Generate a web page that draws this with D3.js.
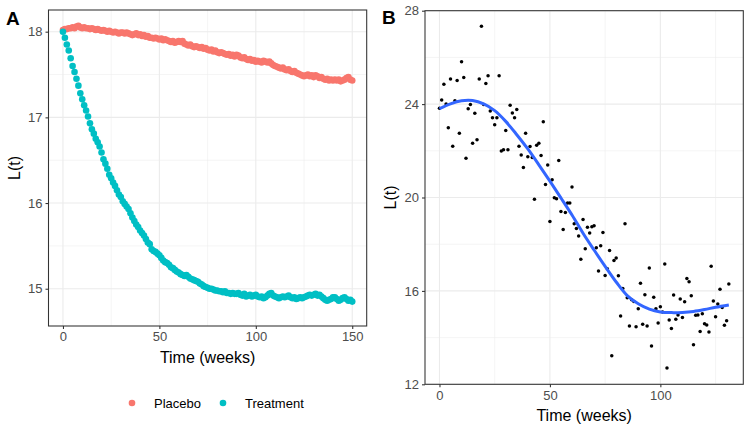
<!DOCTYPE html>
<html>
<head>
<meta charset="utf-8" />
<script src="https://d3js.org/d3.v7.min.js"></script>
<style>
    body { margin: 0; background: #fff; }
    svg { font-family: "Liberation Sans", Arial, sans-serif; }
    .tick text { fill: #4d4d4d; font-size: 13px; }
    .tick line { stroke: #333; stroke-width: 1.07; }
    .domain { display: none; }
</style>
</head>
<body>
<svg id="chart" width="751" height="431"></svg>
<script>
// Panel A : weekly values for both arms
const weeksA = d3.range(0, 151);
const placebo = [
    18.02, 18.03, 18.03, 18.04, 18.04, 18.05, 18.04, 18.06, 18.07, 18.05, 18.04,
    18.05, 18.04, 18.04, 18.03, 18.04, 18.03, 18.02, 18.03, 18.02, 18.01,
    18.02, 18.01, 18.00, 18.01, 18.00, 17.99, 18.00, 17.99, 17.98, 17.99,
    17.99, 17.98, 17.99, 17.98, 17.97, 17.96, 17.97, 17.98, 17.96, 17.97,
    17.95, 17.96, 17.94, 17.95, 17.93, 17.93, 17.92, 17.93, 17.92, 17.91,
    17.92, 17.90, 17.91, 17.90, 17.89, 17.88, 17.89, 17.87, 17.88, 17.89,
    17.88, 17.89, 17.86, 17.85, 17.84, 17.85, 17.83, 17.82, 17.83, 17.82,
    17.81, 17.82, 17.80, 17.81, 17.79, 17.78, 17.79, 17.77, 17.78, 17.76,
    17.75, 17.76, 17.75, 17.74, 17.73, 17.74, 17.72, 17.73, 17.71, 17.73,
    17.72, 17.70, 17.69, 17.70, 17.68, 17.67, 17.68, 17.66, 17.67, 17.65,
    17.66, 17.65, 17.64, 17.66, 17.65, 17.64, 17.65, 17.63, 17.61, 17.60,
    17.59, 17.58, 17.57, 17.58, 17.56, 17.55, 17.56, 17.54, 17.53, 17.54,
    17.52, 17.51, 17.50, 17.49, 17.48, 17.49, 17.50, 17.48, 17.49, 17.47,
    17.49, 17.48, 17.46, 17.47, 17.45, 17.44, 17.45, 17.43, 17.44, 17.43,
    17.44, 17.43, 17.44, 17.42, 17.43, 17.44, 17.46, 17.47, 17.44, 17.43
];
const treatment = [
    18.00, 17.93, 17.85, 17.78, 17.69, 17.60, 17.53, 17.45, 17.37, 17.28, 17.21,
    17.14, 17.08, 17.01, 16.93, 16.86, 16.81, 16.75, 16.71, 16.66, 16.59,
    16.51, 16.46, 16.40, 16.33, 16.29, 16.24, 16.20, 16.15, 16.10, 16.07,
    16.02, 15.99, 15.96, 15.93, 15.88, 15.83, 15.79, 15.75, 15.72, 15.68,
    15.65, 15.62, 15.58, 15.54, 15.52, 15.46, 15.44, 15.43, 15.41, 15.39,
    15.36, 15.33, 15.31, 15.30, 15.28, 15.25, 15.24, 15.22, 15.20, 15.19,
    15.17, 15.16, 15.15, 15.16, 15.14, 15.12, 15.11, 15.10, 15.09, 15.08,
    15.06, 15.05, 15.03, 15.02, 15.01, 15.00, 15.00, 14.99, 14.98, 14.98,
    14.97, 14.97, 14.96, 14.97, 14.95, 14.95, 14.94, 14.95, 14.94, 14.94,
    14.95, 14.93, 14.92, 14.94, 14.91, 14.92, 14.93, 14.91, 14.92, 14.93,
    14.91, 14.90, 14.91, 14.89, 14.90, 14.92, 14.94, 14.95, 14.92, 14.91,
    14.90, 14.89, 14.90, 14.91, 14.90, 14.91, 14.92, 14.90, 14.89, 14.90,
    14.88, 14.89, 14.90, 14.89, 14.90, 14.91, 14.92, 14.93, 14.92, 14.93,
    14.94, 14.92, 14.93, 14.91, 14.89, 14.87, 14.86, 14.87, 14.88, 14.90,
    14.90, 14.88, 14.86, 14.87, 14.89, 14.90, 14.88, 14.86, 14.87, 14.85
];
const groups = ["Placebo", "Treatment"];
const groupColors = ["#F8766D", "#00BFC4"];

// Panel B : noisy observations and the smooth fit
const weeksB = d3.range(0, 132);
const observed = [
    23.82, 24.18, 24.85, 24.00, 22.99, 25.07, 22.19, 24.14, 25.01, 22.75,
    25.81, 25.14, 21.68, 23.80, 23.98, 22.32, 23.61, 22.47, 25.08, 27.33,
    23.98, 24.88, 25.21, 23.70, 23.42, 23.12, 23.42, 25.21, 21.99, 22.05,
    22.87, 22.04, 23.95, 23.62, 23.42, 23.77, 22.19, 21.82, 21.29, 22.75,
    21.75, 22.18, 21.71, 19.92, 22.24, 22.32, 21.80, 23.24, 20.56, 21.39,
    18.97, 20.76, 19.99, 19.95, 21.58, 19.40, 18.63, 19.36, 19.76, 19.76,
    20.45, 18.88, 18.67, 18.35, 17.36, 19.06, 17.80, 18.73, 18.48, 18.75,
    18.79, 17.85, 16.85, 17.93, 18.50, 16.66, 16.95, 17.73, 13.22, 17.30,
    17.41, 16.65, 14.93, 16.10, 18.88, 15.71, 14.50, 15.62, 15.55, 14.46,
    15.24, 16.33, 14.57, 15.83, 14.50, 16.98, 13.64, 15.73, 15.24, 14.63,
    15.32, 15.10, 17.15, 12.70, 14.75, 14.39, 15.82, 14.79, 14.97, 15.65,
    14.86, 15.53, 16.53, 16.39, 15.79, 13.69, 14.96, 14.97, 14.26, 15.02,
    14.59, 14.54, 14.24, 17.06, 15.57, 14.89, 15.44, 16.07, 15.29, 14.53,
    14.72, 16.30
];
const fitWeeks = [0, 5, 10, 15, 20, 25, 30, 35, 40, 45, 50, 55, 60, 65, 70,
    75, 80, 85, 90, 95, 100, 105, 110, 115, 120, 125, 131];
const fitValues = [23.80, 24.01, 24.14, 24.15, 24.01, 23.72, 23.26, 22.69, 22.08,
    21.40, 20.70, 19.98, 19.25, 18.47, 17.75, 17.05, 16.38, 15.80, 15.45,
    15.22, 15.10, 15.07, 15.08, 15.12, 15.20, 15.30, 15.40];

const svg = d3.select("#chart");

function drawPanel(p) {
    const g = svg.append("g");
    const x = d3.scaleLinear().domain(p.xDomain).range([p.left, p.right]);
    const y = d3.scaleLinear().domain(p.yDomain).range([p.bottom, p.top]);

    // grille mineure puis majeure
    g.selectAll(".vminor").data(p.xMinor).enter().append("line")
        .attr("x1", d => x(d)).attr("x2", d => x(d))
        .attr("y1", p.top).attr("y2", p.bottom)
        .attr("stroke", "#ebebeb").attr("stroke-width", 0.55);
    g.selectAll(".hminor").data(p.yMinor).enter().append("line")
        .attr("y1", d => y(d)).attr("y2", d => y(d))
        .attr("x1", p.left).attr("x2", p.right)
        .attr("stroke", "#ebebeb").attr("stroke-width", 0.55);
    g.selectAll(".vmajor").data(p.xTicks).enter().append("line")
        .attr("x1", d => x(d)).attr("x2", d => x(d))
        .attr("y1", p.top).attr("y2", p.bottom)
        .attr("stroke", "#ebebeb").attr("stroke-width", 1.1);
    g.selectAll(".hmajor").data(p.yTicks).enter().append("line")
        .attr("y1", d => y(d)).attr("y2", d => y(d))
        .attr("x1", p.left).attr("x2", p.right)
        .attr("stroke", "#ebebeb").attr("stroke-width", 1.1);

    // axes
    g.append("g")
        .attr("transform", `translate(0,${p.bottom})`)
        .call(d3.axisBottom(x).tickValues(p.xTicks).tickFormat(d3.format("d"))
            .tickSize(3).tickPadding(3));
    g.append("g")
        .attr("transform", `translate(${p.left},0)`)
        .call(d3.axisLeft(y).tickValues(p.yTicks).tickFormat(d3.format("d"))
            .tickSize(3).tickPadding(3));

    g.append("text")
        .attr("x", (p.left + p.right) / 2)
        .attr("y", p.bottom + 37)
        .attr("text-anchor", "middle")
        .style("font-size", "16px")
        .text("Time (weeks)");
    g.append("text")
        .attr("transform", `translate(${p.yTitleX},${(p.top + p.bottom) / 2}) rotate(-90)`)
        .attr("text-anchor", "middle")
        .style("font-size", "16px")
        .text("L(t)");
    g.append("text")
        .attr("x", p.tagX).attr("y", p.tagY)
        .style("font-size", "19px").style("font-weight", "bold")
        .text(p.tag);

    return { g, x, y };
}

// ---- Panel A
const A = drawPanel({
    left: 48.5, right: 366.7, top: 10, bottom: 326,
    xDomain: [-7.5, 157.5], yDomain: [14.565, 18.253],
    xTicks: [0, 50, 100, 150], xMinor: [25, 75, 125],
    yTicks: [15, 16, 17, 18], yMinor: [15.5, 16.5, 17.5],
    yTitleX: 20, tag: "A", tagX: 6, tagY: 25
});
const seriesA = [placebo, treatment];
seriesA.forEach((vals, i) => {
    A.g.append("g").selectAll("circle")
        .data(weeksA)
        .enter().append("circle")
        .attr("cx", (d) => A.x(d))
        .attr("cy", (d, j) => A.y(vals[j]))
        .attr("r", 3.3)
        .attr("fill", groupColors[i]);
});
A.g.append("rect")
    .attr("x", 48.5).attr("y", 10).attr("width", 366.7 - 48.5).attr("height", 316)
    .attr("fill", "none").attr("stroke", "#333").attr("stroke-width", 1.07);

// legende
const legendX = [132, 223];
const legend = svg.append("g").selectAll("g")
    .data(groups)
    .enter().append("g")
    .attr("transform", (d, i) => `translate(${legendX[i]},403)`);
legend.append("circle").attr("r", 3.3).attr("fill", (d, i) => groupColors[i]);
legend.append("text")
    .attr("x", 22).attr("y", 4.6)
    .style("font-size", "13px")
    .text(d => d);

// ---- Panel B
const B = drawPanel({
    left: 425, right: 743.3, top: 10.7, bottom: 384.3,
    xDomain: [-6.55, 137.55], yDomain: [12, 28],
    xTicks: [0, 50, 100], xMinor: [25, 75, 125],
    yTicks: [12, 16, 20, 24, 28], yMinor: [14, 18, 22, 26],
    yTitleX: 396, tag: "B", tagX: 382, tagY: 24
});
B.g.append("g").selectAll("circle")
    .data(weeksB)
    .enter().append("circle")
    .attr("cx", d => B.x(d))
    .attr("cy", (d, i) => B.y(observed[i]))
    .attr("r", 1.75)
    .attr("fill", "#000");

const fitLine = d3.line()
    .x((d, i) => B.x(fitWeeks[i]))
    .y(d => B.y(d))
    .curve(d3.curveCatmullRom);
B.g.append("path")
    .attr("d", fitLine(fitValues))
    .attr("fill", "none")
    .attr("stroke", "#3366FF")
    .attr("stroke-width", 3);

B.g.append("rect")
    .attr("x", 425).attr("y", 10.7).attr("width", 743.3 - 425).attr("height", 384.3 - 10.7)
    .attr("fill", "none").attr("stroke", "#333").attr("stroke-width", 1.07);
</script>
</body>
</html>
